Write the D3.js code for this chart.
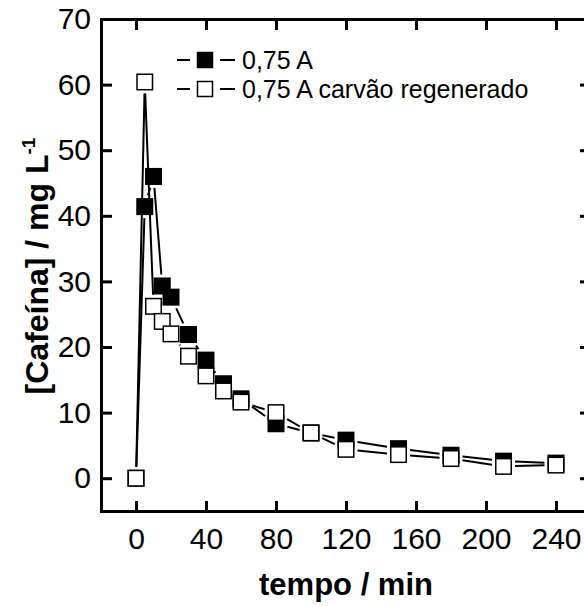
<!DOCTYPE html>
<html>
<head>
<meta charset="utf-8">
<script src="https://cdn.jsdelivr.net/npm/d3@7"></script>
<style>
  body { margin: 0; background: #fff; }
  svg { display: block; font-family: "Liberation Sans", Arial, sans-serif; }
</style>
</head>
<body>
<svg class="chart" width="584" height="607"></svg>
<script>
// tempo (min) and caffeine concentration (mg/L)
var tempo = [0, 5, 10, 15, 20, 30, 40, 50, 60, 80, 100, 120, 150, 180, 210, 240];
var cafeina075 = [0, 41.4, 46.0, 29.3, 27.6, 21.9, 18.0, 14.4, 12.1, 8.3, 6.9, 5.8, 4.5, 3.5, 2.6, 2.3];
var cafeinaRegen = [0, 60.4, 26.2, 23.9, 22.0, 18.6, 15.6, 13.3, 11.6, 10.0, 6.9, 4.4, 3.6, 3.0, 1.8, 2.0];

var seriesNames = ["0,75 A", "0,75 A carvão regenerado"];
var xTicks = [0, 40, 80, 120, 160, 200, 240];
var yTicks = [0, 10, 20, 30, 40, 50, 60, 70];

var svg = d3.select(".chart"),
    plotLeft = 101, plotRight = 591, plotTop = 19, plotBottom = 511;

var x = d3.scaleLinear().domain([-20, 260]).range([plotLeft, plotRight]);
var y = d3.scaleLinear().domain([-5, 70]).range([plotBottom, plotTop]);

var half = 8.5;   // half marker size
var gap = 3;      // line gap to symbol

// axes: ticks point inward on all four sides
svg.append("g")
    .attr("transform", "translate(0," + plotBottom + ")")
    .call(d3.axisBottom(x).tickValues(xTicks).tickSize(-10).tickPadding(17));
svg.append("g")
    .attr("transform", "translate(0," + plotTop + ")")
    .call(d3.axisTop(x).tickValues(xTicks).tickSize(-11).tickFormat(""));
svg.append("g")
    .attr("transform", "translate(" + plotLeft + ",0)")
    .call(d3.axisLeft(y).tickValues(yTicks).tickSize(-11).tickPadding(10));
svg.append("g")
    .attr("transform", "translate(" + plotRight + ",0)")
    .call(d3.axisRight(y).tickValues(yTicks).tickSize(-11).tickFormat(""));

svg.selectAll(".domain").attr("stroke", "#000").attr("stroke-width", 3);
svg.selectAll(".tick line").attr("stroke", "#000").attr("stroke-width", 3);
svg.selectAll(".tick text")
    .attr("fill", "#000")
    .style("font-size", "30px")
    .style("font-family", "'Liberation Sans', Arial, sans-serif");

// axis titles
svg.append("text")
    .attr("x", (plotLeft + plotRight) / 2)
    .attr("y", 595)
    .attr("text-anchor", "middle")
    .style("font-size", "31px")
    .style("font-weight", "bold")
    .text("tempo / min");

var yTitle = svg.append("text")
    .attr("transform", "translate(48," + 266 + ") rotate(-90)")
    .attr("text-anchor", "middle")
    .style("font-size", "32px")
    .style("font-weight", "bold");
yTitle.append("tspan").text("[Cafeína] / mg L");
yTitle.append("tspan")
    .attr("dy", "-13")
    .style("font-size", "19px")
    .text("-1");

function drawSeries(values, filled) {
  var pts = tempo.map(function(t, i) { return [x(t), y(values[i])]; });
  var g = svg.append("g");

  // line pieces, trimmed so they stop short of each square
  for (var i = 0; i < pts.length - 1; i++) {
    var p = pts[i], q = pts[i + 1];
    var dx = q[0] - p[0], dy = q[1] - p[1];
    var len = Math.sqrt(dx * dx + dy * dy);
    var ux = dx / len, uy = dy / len;
    var cut = half / Math.max(Math.abs(ux), Math.abs(uy)) + gap;
    if (len <= 2 * cut) continue;
    g.append("line")
        .attr("x1", p[0] + ux * cut).attr("y1", p[1] + uy * cut)
        .attr("x2", q[0] - ux * cut).attr("y2", q[1] - uy * cut)
        .attr("stroke", "#000")
        .attr("stroke-width", 2);
  }

  g.selectAll("rect")
      .data(pts)
      .enter().append("rect")
        .attr("x", function(d) { return d[0] - half + 0.75; })
        .attr("y", function(d) { return d[1] - half + 0.75; })
        .attr("width", 2 * half - 1.5)
        .attr("height", 2 * half - 1.5)
        .attr("fill", filled ? "#000" : "#fff")
        .attr("stroke", "#000")
        .attr("stroke-width", 1.5);
}

drawSeries(cafeina075, true);
drawSeries(cafeinaRegen, false);

// legend
var legend = svg.append("g");
seriesNames.forEach(function(name, i) {
  var ly = 60 + i * 29;
  legend.append("line").attr("x1", 177).attr("x2", 190).attr("y1", ly).attr("y2", ly)
      .attr("stroke", "#000").attr("stroke-width", 2);
  legend.append("line").attr("x1", 220).attr("x2", 235).attr("y1", ly).attr("y2", ly)
      .attr("stroke", "#000").attr("stroke-width", 2);
  legend.append("rect")
      .attr("x", 197.5).attr("y", ly - 7.5)
      .attr("width", 15).attr("height", 15)
      .attr("fill", i === 0 ? "#000" : "#fff")
      .attr("stroke", "#000").attr("stroke-width", 1.5);
  legend.append("text")
      .attr("x", 242)
      .attr("y", ly + 9)
      .style("font-size", "25px")
      .text(name);
});
</script>
</body>
</html>
